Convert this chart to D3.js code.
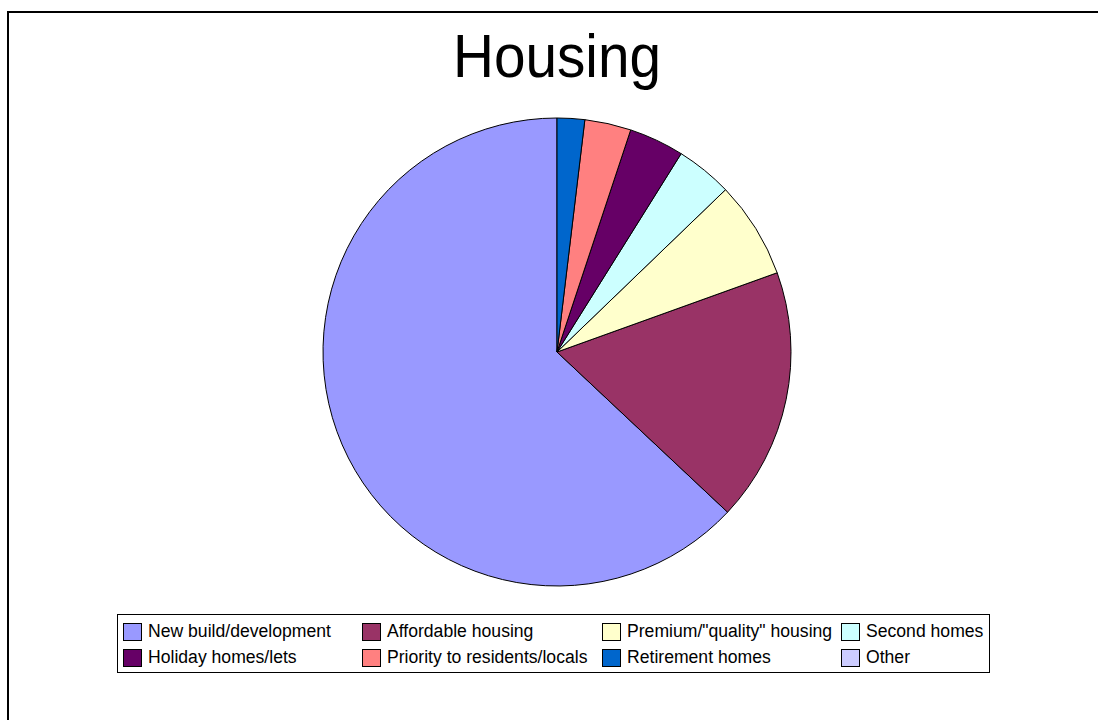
<!DOCTYPE html>
<html>
<head>
<meta charset="utf-8">
<script src="https://cdn.jsdelivr.net/npm/d3@7"></script>
<style>
  html, body { margin: 0; padding: 0; background: #fff; }
  svg { display: block; }
  text { font-family: "Liberation Sans", Arial, sans-serif; fill: #000; }
</style>
</head>
<body>
<svg id="chart" width="1098" height="720"></svg>
<script>
// Survey responses on housing (share of answers, %)
const categories = [
  "New build/development",
  "Affordable housing",
  "Premium/\"quality\" housing",
  "Second homes",
  "Holiday homes/lets",
  "Priority to residents/locals",
  "Retirement homes",
  "Other"
];
const values = [63.0, 17.5, 6.7, 3.9, 3.8, 3.2, 1.9, 0];
const colors = ["#9999FF", "#993366", "#FFFFCC", "#CCFFFF", "#660066", "#FF8080", "#0066CC", "#CCCCFF"];
const title = "Housing";

const svg = d3.select("#chart");

// outer chart frame
svg.append("rect")
  .attr("x", 8).attr("y", 12)
  .attr("width", 1200).attr("height", 800)
  .attr("fill", "#fff").attr("stroke", "#000").attr("stroke-width", 2);

// title
svg.append("text")
  .attr("x", 557).attr("y", 77)
  .attr("text-anchor", "middle")
  .attr("font-size", 61)
  .attr("textLength", 208)
  .attr("lengthAdjust", "spacingAndGlyphs")
  .text(title);

// pie
const cx = 557, cy = 352, radius = 234;
const pie = d3.pie().sort(null).value(d => d.v)
  .startAngle(0).endAngle(-2 * Math.PI);
const arc = d3.arc().innerRadius(0).outerRadius(radius);
const data = categories.map((c, i) => ({ c, v: values[i], col: colors[i] }));

svg.append("g")
  .attr("transform", `translate(${cx},${cy})`)
  .selectAll("path")
  .data(pie(data).filter(d => d.data.v > 0))
  .join("path")
  .attr("d", arc)
  .attr("fill", d => d.data.col)
  .attr("stroke", "#000")
  .attr("stroke-width", 1)
  .attr("stroke-linejoin", "round");

// legend
const legend = svg.append("g");
legend.append("rect")
  .attr("x", 117.5).attr("y", 614.5)
  .attr("width", 872).attr("height", 58)
  .attr("fill", "#fff").attr("stroke", "#000").attr("stroke-width", 1);

const colX = [123, 362, 602, 841];
const rowY = [623, 649];
const items = legend.selectAll("g.item")
  .data(data)
  .join("g")
  .attr("class", "item")
  .attr("transform", (d, i) => `translate(${colX[i % 4]},${rowY[Math.floor(i / 4)]})`);

items.append("rect")
  .attr("x", 0.5).attr("y", 0.5)
  .attr("width", 18).attr("height", 17)
  .attr("fill", d => d.col)
  .attr("stroke", "#000").attr("stroke-width", 1);

items.append("text")
  .attr("x", 25).attr("y", 14)
  .attr("font-size", 17.6)
  .text(d => d.c);
</script>
</body>
</html>
